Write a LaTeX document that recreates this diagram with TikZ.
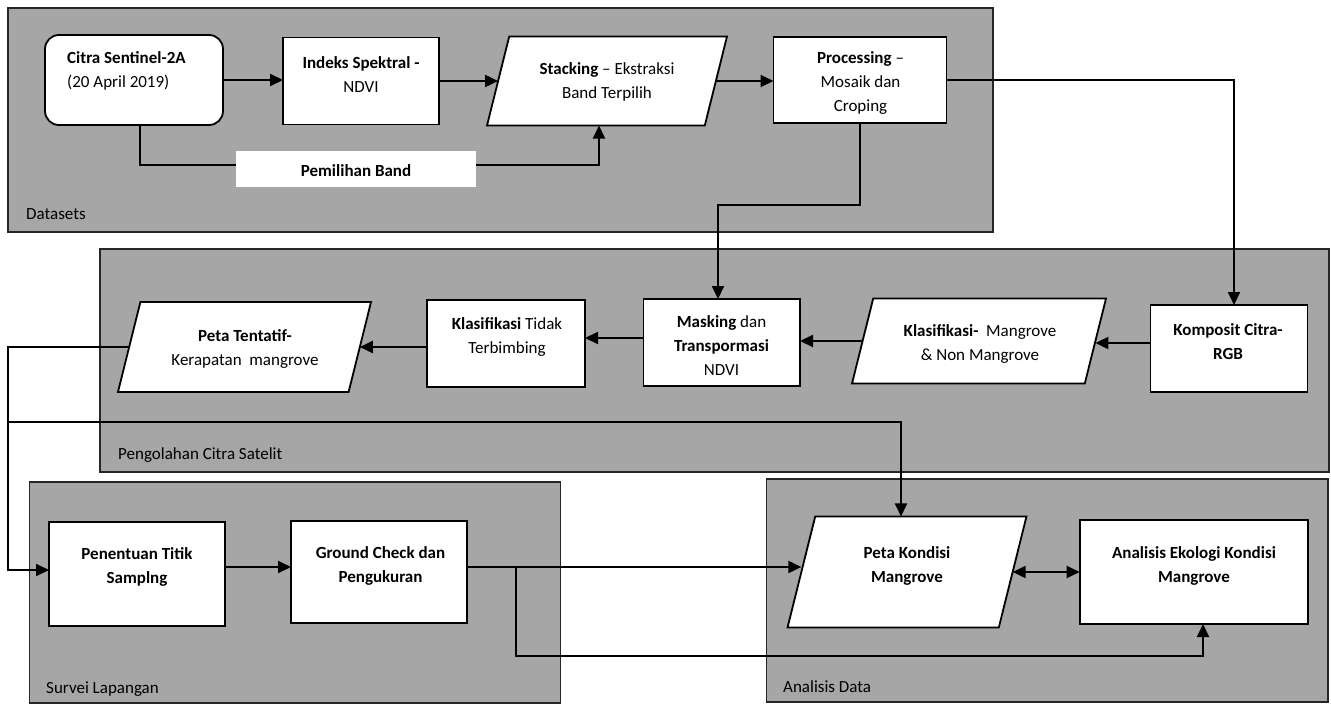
\documentclass[tikz,border=0pt]{standalone}
\usepackage{fontspec}
\setmainfont{Carlito}
\usetikzlibrary{arrows.meta,shapes.geometric}
\definecolor{grpgray}{HTML}{A6A6A6}
\begin{document}
\begin{tikzpicture}[x=1pt,y=-1pt,
  grp/.style={draw=black!85, line width=1.8pt, fill=grpgray, inner sep=0pt, outer sep=0pt, anchor=north west},
  box/.style={draw=black, line width=1.8pt, fill=white, inner sep=0pt, outer sep=0pt},
  para/.style={box, trapezium, trapezium left angle=76, trapezium right angle=104},
  txt/.style={inner sep=0pt, align=center, font=\fontsize{17}{24}\selectfont},
  lbl/.style={inner sep=0pt, anchor=west, font=\fontsize{17}{24}\selectfont},
  arr/.style={line width=2pt, -{Triangle[length=13pt,width=12pt]}},
  dbl/.style={line width=2pt, {Triangle[length=13pt,width=12pt]}-{Triangle[length=13pt,width=12pt]}}
]
\useasboundingbox (0,0) rectangle (1331,704);

% groups
\node[grp, minimum width=985pt, minimum height=224pt] (gData) at (8,8) {};
\node[grp, minimum width=1229pt, minimum height=223pt] (gPeng) at (100,249) {};
\node[grp, minimum width=531pt, minimum height=221pt] (gSurv) at (29.5,482) {};
\node[grp, minimum width=561.5pt, minimum height=223pt] (gAna) at (766.5,479) {};

\node[lbl] (lData) at (26,214) {Datasets};
\node[lbl] (lPeng) at (118,455) {Pengolahan Citra Satelit};
\node[lbl] (lSurv) at (46,689) {Survei Lapangan};
\node[lbl] (lAna) at (783,687) {Analisis Data};

% boxes
\node[box, rounded corners=14pt, minimum width=178pt, minimum height=90pt] (citra) at (134,80) {};
\node[box, minimum width=156pt, minimum height=87pt] (idx) at (361,81) {};
\node[para, text width=195.6pt, text height=44.5pt, text depth=44.5pt] (stk) at (607,81) {};
\node[box, minimum width=173pt, minimum height=86pt] (proc) at (860,80) {};

\node[para, text width=208.2pt, text height=45pt, text depth=45pt] (pet) at (244.5,347) {};
\node[box, minimum width=158pt, minimum height=87pt] (kt) at (506,343.5) {};
\node[box, minimum width=156.5pt, minimum height=87pt] (msk) at (721.75,342.5) {};
\node[para, text width=211.6pt, text height=42.5pt, text depth=42.5pt] (kmg) at (979,341) {};
\node[box, minimum width=157pt, minimum height=87pt] (kmp) at (1229,348.5) {};

\node[box, minimum width=176pt, minimum height=104pt] (pts) at (137,574) {};
\node[box, minimum width=176pt, minimum height=102pt] (gc) at (379,572) {};
\node[para, text width=183.6pt, text height=55.5pt, text depth=55.5pt] (pk) at (907,572) {};
\node[box, minimum width=228.6pt, minimum height=104pt] (aek) at (1194,572) {};

% texts
\node[txt, anchor=west, align=left] (citra-t) at (67,71) {\textbf{Citra Sentinel-2A}\\(20 April 2019)};
\node[txt] (idx-t) at (361,75) {\textbf{Indeks Spektral -}\\NDVI};
\node[txt] (stk-t) at (607,81.5) {\textbf{Stacking} – Ekstraksi\\Band Terpilih};
\node[txt] (proc-t) at (860.5,82.5) {\textbf{Processing} –\\Mosaik dan\\Croping};
\node[txt] (pet-t) at (245,348.5) {\textbf{Peta Tentatif-}\\Kerapatan~ mangrove};
\node[txt] (kt-t) at (507,337) {\textbf{Klasifikasi} Tidak\\Terbimbing};
\node[txt] (msk-t) at (721.5,345.5) {\textbf{Masking} dan\\\textbf{Transpormasi}\\NDVI};
\node[txt] (kmg-t) at (980,343.5) {\textbf{Klasifikasi-}~ Mangrove\\\& Non Mangrove};
\node[txt] (kmp-t) at (1228,341.5) {\textbf{Komposit Citra-}\\\textbf{RGB}};
\node[txt] (pts-t) at (137,567) {\textbf{Penentuan Titik}\\\textbf{Samplng}};
\node[txt] (gc-t) at (380.5,566) {\textbf{Ground Check dan}\\\textbf{Pengukuran}};
\node[txt] (pk-t) at (907,565.5) {\textbf{Peta Kondisi}\\\textbf{Mangrove}};
\node[txt] (aek-t) at (1194,566) {\textbf{Analisis Ekologi Kondisi}\\\textbf{Mangrove}};

% connectors
\draw[arr] (citra.east) -- (citra.east -| idx.west);
\draw[arr] (idx.east) -- (idx.east -| stk.west);
\draw[arr] (stk.east) -- (stk.east -| proc.west);
\draw[arr] ([xshift=6pt]citra.south) -- ++(0,40) -| ([xshift=-8pt]stk.center |- stk.south);
\coordinate (b1) at (718,205);
\draw[arr] (proc.south) |- (b1) -- (b1 |- msk.north);
\draw[arr] (proc.east) -| ([xshift=5pt]kmp.north);
\draw[arr] ([yshift=5.5pt]kmp.west) -- ([yshift=5.5pt]kmp.west -| kmg.east);
\draw[arr] (kmg.west) -- (kmg.west -| msk.east);
\draw[arr] ([yshift=4.5pt]msk.west) -- ([yshift=4.5pt]msk.west -| kt.east);
\draw[arr] ([yshift=-3.5pt]kt.west) -- ([yshift=-3.5pt]kt.west -| pet.east);
\coordinate (c1) at (8,347);
\coordinate (c2) at (8,570);
\coordinate (c3) at (8,422);
\coordinate (c4) at (901,422);
\draw[arr] (pet.west) -- (c1) -- (c2) -- (c2 -| pts.west);
\draw[arr] (c3) -- (c4) -- (c4 |- pk.north);
\draw[arr] ([yshift=7pt]pts.east) -- ([yshift=7pt]pts.east -| gc.west);
\draw[arr] ([yshift=5pt]gc.east) -- ([yshift=5pt]gc.east -| pk.west);
\coordinate (c5) at (516,567);
\draw[arr] (c5) -- ++(0,89) -| ([xshift=9pt]aek.south);
\draw[dbl] (pk.east) -- (pk.east -| aek.west);

% Pemilihan Band label box
\node[fill=white, inner sep=0pt, minimum width=240pt, minimum height=36pt] (pem) at (356,169) {};
\node[txt] (pem-t) at (356,171) {\textbf{Pemilihan Band}};
\end{tikzpicture}
\end{document}
